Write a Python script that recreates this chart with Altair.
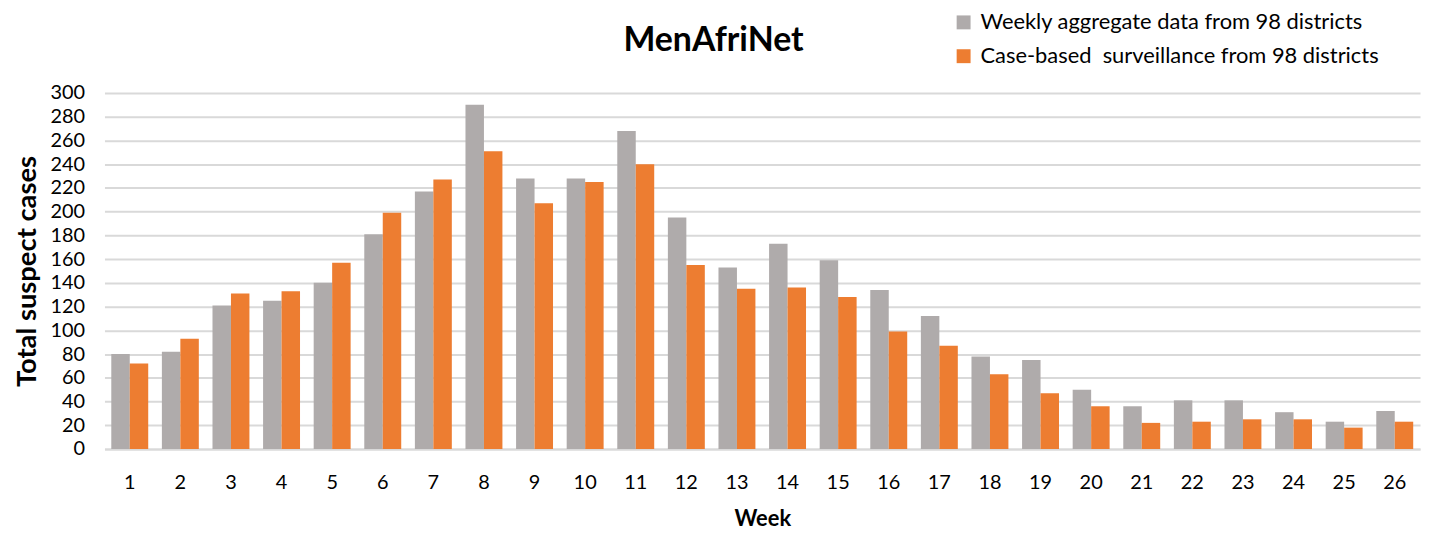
import altair as alt
import pandas as pd

weeks = list(range(1, 27))
aggregate = [80, 82, 121, 125, 140, 181, 217, 290, 228, 228, 268, 195, 153, 173,
             159, 134, 112, 78, 75, 50, 36, 41, 41, 31, 23, 32]
case_based = [72, 93, 131, 133, 157, 199, 227, 251, 207, 225, 240, 155, 135, 136,
              128, 99, 87, 63, 47, 36, 22, 23, 25, 25, 18, 23]
series_names = ["Weekly aggregate data from 98 districts",
                "Case-based\u00a0 surveillance from 98 districts"]
series_colors = ["#AFABAB", "#ED7D31"]

rows = []
for i, w in enumerate(weeks):
    rows.append({"Week": w, "series": series_names[0], "value": aggregate[i]})
    rows.append({"Week": w, "series": series_names[1], "value": case_based[i]})
df = pd.DataFrame(rows)

FONT = "Lato"

chart = alt.Chart(df).mark_bar().encode(
    x=alt.X("Week:O", title="Week",
            scale=alt.Scale(paddingInner=0.27, paddingOuter=0.135),
            axis=alt.Axis(labelAngle=0, labelFontSize=20, labelFont=FONT, labelColor="#000000",
                          labelPadding=24, ticks=False, domainColor="#D9D9D9", domainWidth=2,
                          titleFont=FONT, titleFontSize=22, titleFontWeight="bold",
                          titleColor="#000000", titlePadding=16)),
    xOffset=alt.XOffset("series:N", sort=series_names),
    y=alt.Y("value:Q", title="Total suspect cases",
            scale=alt.Scale(domain=[0, 300], nice=False),
            axis=alt.Axis(values=list(range(0, 301, 20)), labelFontSize=20, labelFont=FONT,
                          labelColor="#000000", labelPadding=20, ticks=False, domain=False,
                          gridColor="#D9D9D9", gridWidth=2,
                          titleFont=FONT, titleFontSize=27.5, titleFontWeight="bold",
                          titleColor="#000000", titlePadding=9)),
    color=alt.Color("series:N", sort=series_names,
                    scale=alt.Scale(domain=series_names, range=series_colors),
                    legend=alt.Legend(title=None, orient="none", legendX=853, legendY=-82,
                                      padding=0,
                                      symbolType="square", symbolSize=196, symbolStrokeWidth=0,
                                      labelFontSize=22, labelFont=FONT, labelColor="#000000",
                                      labelLimit=600, rowPadding=12, labelOffset=6)),
).properties(
    width=1323,
    height=358,
    title=alt.TitleParams("MenAfriNet", font=FONT, fontSize=34, fontWeight="bold",
                          color="#000000", anchor="middle", dx=-49, offset=0, dy=47),
    autosize=alt.AutoSizeParams(type="none"),
    padding={"left": 97, "top": 84, "right": 7, "bottom": 80},
).configure_view(stroke=None)

chart.save("out.html", embed_options={"renderer": "svg", "actions": False})
